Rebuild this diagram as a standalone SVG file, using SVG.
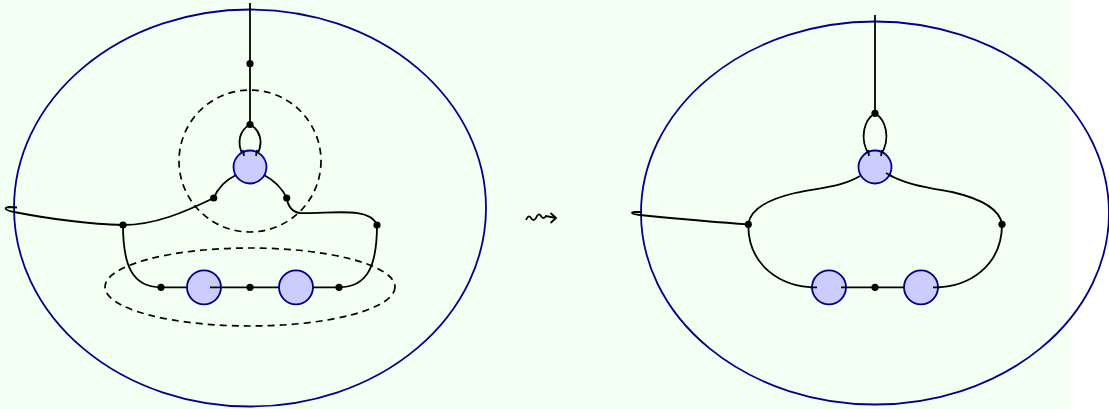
<svg xmlns="http://www.w3.org/2000/svg" width="1109" height="409" viewBox="0 0 1109 409">
<style>
.bg{fill:#f4fff4}
.outer{fill:none;stroke:#00008b;stroke-width:1.8}
.v{fill:#ccccff;stroke:#00008b;stroke-width:1.8}
.s{fill:none;stroke:#000;stroke-width:1.8;stroke-linecap:butt}
.d{fill:none;stroke:#000;stroke-width:1.7;stroke-dasharray:7 5}
.dot{fill:#000}
</style>
<rect class="bg" x="0" y="0" width="1069" height="409"/>
<g id="left-diagram">
  <ellipse id="left-boundary" class="outer" cx="250" cy="208" rx="236" ry="198.5"/>
  <circle id="left-dashed-circle" class="d" cx="250" cy="161" r="71"/>
  <ellipse id="left-dashed-ellipse" class="d" cx="250" cy="287" rx="145" ry="39"/>
  <g id="left-connectors">
    <path class="s" d="M250,3 L250,124.5"/>
    <path class="s" d="M250,124.5 C240,130 236,142 243,155"/>
    <path class="s" d="M250,124.5 C260,130 264,142 257,155"/>
    <path class="s" d="M236,175 C224,181 217,190 213.7,198 C185,212 155,225 123,225 C85,224 45,218 14,212 C3,210 4,207 10,207 L17,207.5"/>
    <path class="s" d="M264,175 C277,182 283,190 286.7,198 C288,206 292,212 300,213 C330,214 370,206 377,225"/>
    <path class="s" d="M123,225 C123,265 132,287.3 161,287.3 L187,287.3"/>
    <path class="s" d="M377,225 C377,265 368,287.3 339,287.3 L313,287.3"/>
    <path class="s" d="M216,287.3 L279,287.3"/>
  </g>
  <g id="left-nodes">
    <circle class="v" cx="250" cy="167" r="16.5"/>
    <circle class="v" cx="204" cy="287.3" r="17"/>
    <circle class="v" cx="296" cy="287.3" r="17"/>
    <path class="s" d="M243,150 L244,156 M257,150 L256,156 M210,287.3 L221,287.3"/>
    <circle class="dot" cx="250" cy="63.7" r="3.6"/>
    <circle class="dot" cx="250" cy="124.5" r="3.6"/>
    <circle class="dot" cx="213.7" cy="198" r="3.6"/>
    <circle class="dot" cx="286.7" cy="198" r="3.6"/>
    <circle class="dot" cx="123" cy="225" r="3.6"/>
    <circle class="dot" cx="377" cy="225" r="3.6"/>
    <circle class="dot" cx="161" cy="287.3" r="3.6"/>
    <circle class="dot" cx="250" cy="287.3" r="3.6"/>
    <circle class="dot" cx="339" cy="287.3" r="3.6"/>
  </g>
</g>
<g id="squiggle-arrow">
  <path class="s" d="M526,220 q2.5,-6 5,-2 q2.5,4 5,0 q2.5,-6 5,-2 q2.5,4 5,0 L556,218"/>
  <path class="s" d="M550.5,213 L556,218 L550.5,223"/>
</g>
<g id="right-diagram">
  <ellipse id="right-boundary" class="outer" cx="875" cy="213" rx="234" ry="191.5"/>
  <g id="right-connectors">
    <path class="s" d="M875,15 L875,113.3"/>
    <path class="s" d="M875,113.3 C864,120 859,138 869,155"/>
    <path class="s" d="M875,113.3 C886,120 891,138 881,155"/>
    <path class="s" d="M860,176 C840,188 815,188 795,193 C765,200 750,210 748.3,224.3 C710,222 670,218 640,215 C631,214 630,212 635,212 L642,212"/>
    <path class="s" d="M886,173 C905,185 930,188 952,192 C982,199 1000,210 1002,224.3"/>
    <path class="s" d="M748.3,224.3 C748,265 780,287.3 816.5,287.3"/>
    <path class="s" d="M1002,224.3 C1002,265 970,287.3 934,287.3"/>
  </g>
  <g id="right-nodes">
    <circle class="v" cx="875" cy="167" r="16.5"/>
    <circle class="v" cx="829" cy="287.3" r="17"/>
    <circle class="v" cx="921" cy="287.3" r="17"/>
    <path class="s" d="M868,150 L869,156 M882,150 L881,156 M886,173 L893,177 M810,287.3 L817,287.3 M841,287.3 L904,287.3 M933,287.3 L940,287.3"/>
    <circle class="dot" cx="875" cy="113.3" r="3.6"/>
    <circle class="dot" cx="748.3" cy="224.3" r="3.6"/>
    <circle class="dot" cx="1002" cy="224.3" r="3.6"/>
    <circle class="dot" cx="875" cy="287.3" r="3.6"/>
  </g>
</g>
</svg>
